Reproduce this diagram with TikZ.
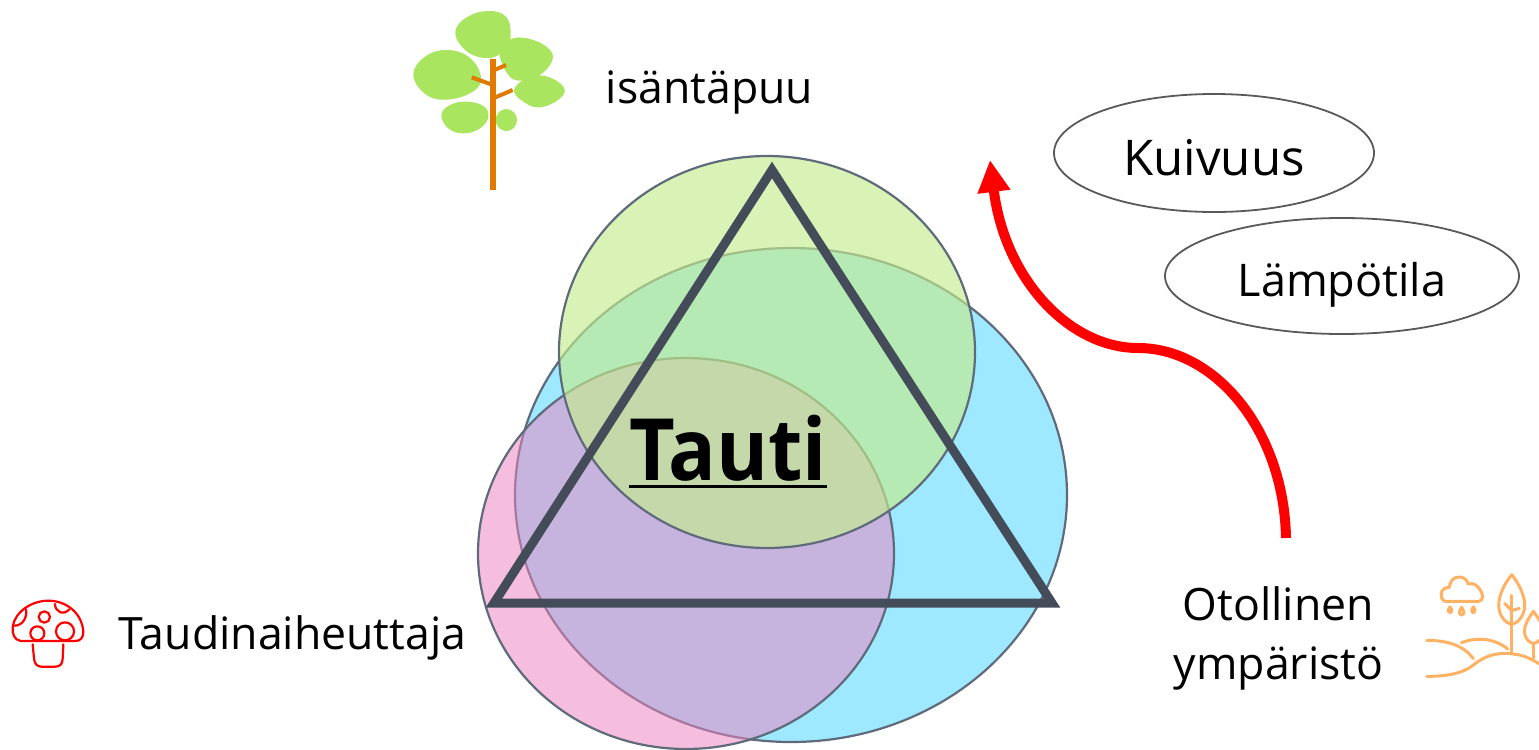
\documentclass[tikz,border=0pt]{standalone}
\usepackage{fontspec}
\setmainfont{Open Sans}
\usetikzlibrary{shapes.geometric,arrows.meta}
\definecolor{edgegray}{HTML}{5F6B7A}
\definecolor{trigray}{HTML}{444C5A}
\definecolor{bluefill}{RGB}{158,233,255}
\definecolor{pinkfill}{RGB}{235,131,192}
\definecolor{greenfill}{RGB}{195,236,141}
\definecolor{leaf}{HTML}{A9E55F}
\definecolor{trunk}{HTML}{E07B00}
\definecolor{envorange}{HTML}{FFB264}
\definecolor{ovalgray}{HTML}{595959}
\tikzset{
  x=0.5pt,y=-0.5pt,
  venn/.style={ellipse,draw=edgegray,line width=1.1pt,inner sep=0pt},
  oval/.style={ellipse,draw=ovalgray,line width=0.9pt,inner sep=0pt},
  lab/.style={inner sep=0pt,font=\fontsize{22.3}{29.5}\selectfont,align=center},
  leafblob/.style={fill=leaf,draw=none},
  envline/.style={draw=envorange,line width=1.5pt,line cap=round,line join=round},
  mush/.style={draw=red,line width=1.1pt,line cap=round,line join=round},
}
\begin{document}
\begin{tikzpicture}
\useasboundingbox (0,0) rectangle (1539,750);
% Venn ellipses
\node[venn,fill=bluefill,minimum width=276pt,minimum height=247pt] (host) at (791,495) {};
\node[venn,fill=pinkfill,fill opacity=.52,minimum width=208pt,minimum height=195.5pt] (pathogen) at (686,553.5) {};
\node[venn,fill=greenfill,fill opacity=.65,minimum width=208pt,minimum height=196pt] (tree) at (767,352) {};
% triangle
\coordinate (ta) at (772,170);
\coordinate (tb) at (1052,603);
\coordinate (tc) at (494,603);
\draw[trigray,line width=4.5pt,miter limit=10] (ta) -- (tb) -- (tc) -- cycle;
\node[inner sep=0pt,font=\addfontfeature{FakeStretch=0.92}\fontsize{43}{50}\selectfont\bfseries] (tauti) at (728,452) {\vtop{\hbox{Tauti}\kern1.6pt\hrule height 1.8pt}};
% labels
\node[lab] (isanta) at (709.5,92) {isäntäpuu};
\node[lab] (taudin) at (292.5,638) {Taudinaiheuttaja};
\node[lab] (oto) at (1278.5,638.5) {Otollinen\\ympäristö};
\node[oval,minimum width=160pt,minimum height=59pt,font=\fontsize{24.6}{30}\selectfont,text height=22pt,text depth=0pt] (kuiv) at (1214,153) {Kuivuus};
\node[oval,minimum width=177pt,minimum height=58pt,font=\fontsize{22.5}{29}\selectfont,text height=20pt,text depth=0pt] (lamp) at (1342,276) {Lämpötila};
% arrow
\coordinate (as) at (1286,538);
\coordinate (ae) at (990,160);
\draw[red,line width=5pt,-{Triangle[length=16pt,width=15.5pt]}] (as) .. controls (1284,430) and (1215,348) .. (1138,348) .. controls (1070,348) and (1005,280) .. (ae);
% tree icon
\begin{scope}[shift={(400,0)},x=0.1667pt,y=-0.1667pt]
\fill[leafblob] plot[smooth cycle,tension=.7] coordinates {(166,95) (200,52) (265,33) (318,50) (332,100) (322,135) (290,168) (240,172) (190,145)};
\fill[leafblob] plot[smooth cycle,tension=.7] coordinates {(298,150) (340,115) (400,120) (450,150) (455,185) (420,225) (370,242) (325,225)};
\fill[leafblob] plot[smooth cycle,tension=.7] coordinates {(40,225) (75,170) (140,150) (205,170) (242,225) (225,270) (150,298) (80,285)};
\fill[leafblob] plot[smooth cycle,tension=.7] coordinates {(342,270) (380,235) (435,228) (490,260) (480,295) (420,322) (370,305)};
\fill[leafblob] plot[smooth cycle,tension=.7] coordinates {(124,345) (150,315) (200,305) (250,318) (265,350) (240,385) (190,400) (145,385)};
\fill[leafblob] (319,360) ellipse[x radius=32,y radius=33];
\draw[trunk,line width=3pt] (279,176) -- (279,570);
\draw[trunk,line width=2pt] (279,212) -- (318,195);
\draw[trunk,line width=2pt] (279,255) -- (215,232);
\draw[trunk,line width=2pt] (279,295) -- (338,270);
\end{scope}
% environment icon
\begin{scope}
\clip (1400,560) rectangle (1539,750);
\begin{scope}[shift={(1400,560)},x=0.1667pt,y=-0.1667pt]
\draw[envline] (135,124) .. controls (115,115) and (120,82) .. (148,82) .. controls (150,45) and (195,40) .. (205,72) .. controls (235,60) and (265,122) .. (235,124) -- cycle;
\foreach \xx/\yy/\ss in {150/150/0.8,185/155/1.1,220/150/0.8}{
  \draw[envline,fill=white] (\xx,\yy-12*\ss) .. controls (\xx+4*\ss,\yy-4*\ss) and (\xx+8*\ss,\yy) .. (\xx+6*\ss,\yy+5*\ss) .. controls (\xx+4*\ss,\yy+11*\ss) and (\xx-4*\ss,\yy+11*\ss) .. (\xx-6*\ss,\yy+5*\ss) .. controls (\xx-8*\ss,\yy) and (\xx-4*\ss,\yy-4*\ss) .. cycle;
}
\draw[envline] (335,44) .. controls (310,75) and (296,110) .. (296,135) .. controls (296,170) and (320,192) .. (335,192) .. controls (350,192) and (374,170) .. (374,135) .. controls (374,110) and (360,75) .. (335,44) -- cycle;
\draw[envline] (335,106) -- (335,280);
\draw[envline] (314,130) -- (335,152) -- (358,145);
\draw[envline] (400,154) .. controls (385,175) and (373,195) .. (373,215) .. controls (373,235) and (390,250) .. (400,250) .. controls (412,250) and (430,235) .. (430,215) .. controls (430,195) and (415,175) .. (400,154) -- cycle;
\draw[envline] (400,250) -- (400,298);
\draw[envline] (80,241) .. controls (140,241) and (190,255) .. (220,296);
\draw[envline] (184,248) .. controls (230,230) and (285,235) .. (323,267);
\draw[envline] (80,349) .. controls (140,349) and (190,340) .. (220,315) .. controls (255,285) and (300,275) .. (340,282) .. controls (375,285) and (400,300) .. (440,325);
\end{scope}
\end{scope}
% mushroom icon
\begin{scope}[shift={(0,590)},x=0.1667pt,y=-0.1667pt]
\draw[mush] (62,153) .. controls (42,150) and (36,130) .. (38,110) .. controls (45,65) and (95,32) .. (145,32) .. controls (195,32) and (245,65) .. (250,125) .. controls (250,145) and (240,153) .. (225,153) -- cycle;
\draw[mush] (98,163) -- (102,205) .. controls (103,222) and (112,230) .. (125,230) -- (165,230) .. controls (180,230) and (188,222) .. (188,205) -- (190,163);
\draw[mush] (42,107) .. controls (65,108) and (83,85) .. (78,58);
\draw[mush] (165,42) .. controls (165,65) and (190,78) .. (208,58);
\draw[mush] (133,81) circle[radius=17];
\draw[mush] (112,130) circle[radius=21];
\draw[mush] (195,124) circle[radius=27];
\end{scope}
\end{tikzpicture}
\end{document}
